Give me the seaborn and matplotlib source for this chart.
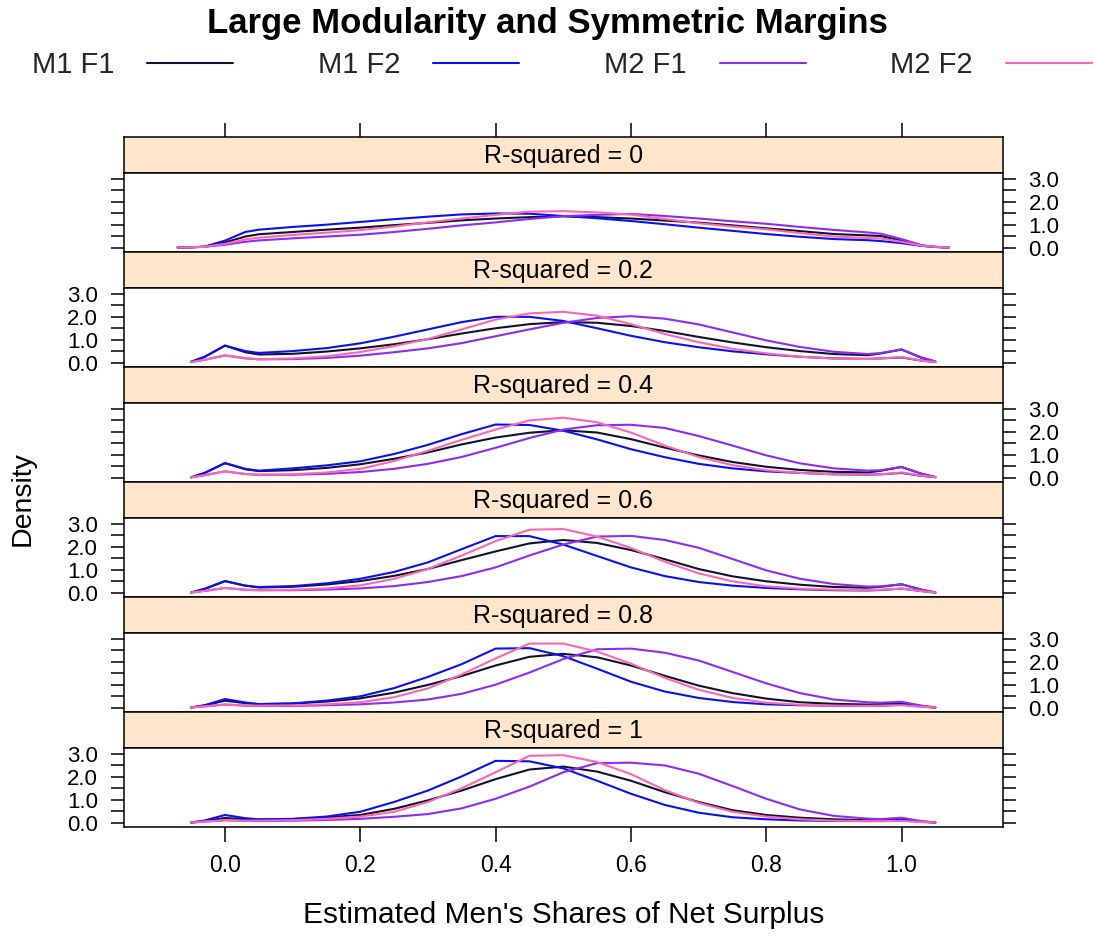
import numpy as np
import pandas as pd
import matplotlib
matplotlib.use("Agg")
import matplotlib.pyplot as plt
import seaborn as sns
from matplotlib.ticker import FuncFormatter

sns.set_theme(style="white")
plt.rcParams['font.family'] = ['Liberation Sans', 'DejaVu Sans']

nan = float("nan")

x_grid = [-0.07, -0.05, -0.03, 0.0, 0.03, 0.05, 0.1, 0.15, 0.2, 0.25, 0.3, 0.35, 0.4,
          0.45, 0.5, 0.55, 0.6, 0.65, 0.7, 0.75, 0.8, 0.85, 0.9, 0.95, 0.97, 1.0,
          1.03, 1.05, 1.07]

r_squared = ["0", "0.2", "0.4", "0.6", "0.8", "1"]
series = ["M1 F1", "M1 F2", "M2 F1", "M2 F2"]
colors = ["#12122E", "#0A10F2", "#8E2BF6", "#FF66B2"]

# one row per R-squared panel
m1f1 = [
    [0, 0.01, 0.03, 0.22, 0.48, 0.58, 0.68, 0.78, 0.87, 0.98, 1.08, 1.19, 1.27, 1.33, 1.37, 1.33, 1.27, 1.18, 1.09, 0.97, 0.84, 0.72, 0.59, 0.53, 0.5, 0.3, 0.08, 0.03, 0],
    [nan, 0.03, 0.25, 0.74, 0.45, 0.35, 0.38, 0.48, 0.62, 0.8, 1.02, 1.27, 1.5, 1.68, 1.77, 1.74, 1.6, 1.38, 1.12, 0.88, 0.67, 0.5, 0.37, 0.32, 0.4, 0.57, 0.2, 0.04, nan],
    [nan, 0.01, 0.2, 0.63, 0.36, 0.28, 0.32, 0.42, 0.58, 0.82, 1.1, 1.45, 1.75, 1.96, 2.07, 1.97, 1.68, 1.31, 0.97, 0.68, 0.47, 0.33, 0.25, 0.22, 0.3, 0.46, 0.16, 0.02, nan],
    [nan, 0.0, 0.16, 0.5, 0.3, 0.22, 0.25, 0.35, 0.5, 0.73, 1.03, 1.42, 1.8, 2.15, 2.3, 2.17, 1.86, 1.46, 1.03, 0.71, 0.49, 0.34, 0.24, 0.21, 0.25, 0.36, 0.12, 0.0, nan],
    [nan, 0.0, 0.09, 0.3, 0.19, 0.15, 0.17, 0.26, 0.4, 0.65, 0.99, 1.38, 1.84, 2.22, 2.35, 2.2, 1.84, 1.39, 0.96, 0.63, 0.39, 0.23, 0.16, 0.13, 0.15, 0.2, 0.06, 0.0, nan],
    [nan, 0.0, 0.06, 0.2, 0.14, 0.12, 0.15, 0.22, 0.33, 0.6, 0.97, 1.4, 1.9, 2.32, 2.45, 2.23, 1.83, 1.33, 0.9, 0.54, 0.33, 0.21, 0.14, 0.1, 0.1, 0.13, 0.04, 0.0, nan],
]
m1f2 = [
    [0, 0.01, 0.04, 0.3, 0.68, 0.78, 0.9, 1.0, 1.12, 1.24, 1.35, 1.45, 1.49, 1.48, 1.38, 1.28, 1.16, 1.02, 0.87, 0.73, 0.59, 0.47, 0.37, 0.32, 0.28, 0.19, 0.07, 0.02, 0],
    [nan, 0.03, 0.25, 0.74, 0.5, 0.42, 0.5, 0.63, 0.84, 1.13, 1.45, 1.77, 2.0, 2.0, 1.82, 1.5, 1.17, 0.89, 0.67, 0.49, 0.36, 0.25, 0.18, 0.16, 0.18, 0.22, 0.08, 0.02, nan],
    [nan, 0.01, 0.2, 0.63, 0.38, 0.3, 0.4, 0.53, 0.71, 1.03, 1.43, 1.9, 2.32, 2.3, 2.05, 1.67, 1.24, 0.89, 0.6, 0.4, 0.27, 0.2, 0.14, 0.12, 0.14, 0.2, 0.07, 0.01, nan],
    [nan, 0.0, 0.16, 0.5, 0.3, 0.24, 0.28, 0.4, 0.6, 0.9, 1.32, 1.9, 2.47, 2.47, 2.1, 1.6, 1.1, 0.72, 0.46, 0.3, 0.2, 0.14, 0.1, 0.09, 0.11, 0.17, 0.06, 0.0, nan],
    [nan, 0.0, 0.1, 0.37, 0.22, 0.15, 0.18, 0.3, 0.49, 0.85, 1.34, 1.9, 2.58, 2.6, 2.25, 1.7, 1.13, 0.7, 0.42, 0.24, 0.14, 0.1, 0.08, 0.07, 0.08, 0.13, 0.04, 0.0, nan],
    [nan, 0.0, 0.09, 0.33, 0.19, 0.14, 0.16, 0.26, 0.47, 0.9, 1.4, 2.02, 2.7, 2.68, 2.37, 1.83, 1.26, 0.77, 0.43, 0.23, 0.14, 0.09, 0.07, 0.06, 0.07, 0.1, 0.03, 0.0, nan],
]
m2f1 = [
    [0, 0.01, 0.03, 0.12, 0.25, 0.31, 0.4, 0.48, 0.56, 0.68, 0.82, 0.97, 1.1, 1.25, 1.37, 1.43, 1.47, 1.38, 1.27, 1.15, 1.04, 0.9, 0.77, 0.66, 0.6, 0.37, 0.1, 0.03, 0],
    [nan, 0.02, 0.12, 0.31, 0.18, 0.14, 0.15, 0.2, 0.3, 0.45, 0.62, 0.85, 1.15, 1.45, 1.74, 1.95, 2.03, 1.92, 1.67, 1.32, 0.97, 0.68, 0.47, 0.37, 0.42, 0.57, 0.22, 0.05, nan],
    [nan, 0.01, 0.1, 0.27, 0.15, 0.12, 0.12, 0.16, 0.24, 0.38, 0.6, 0.9, 1.3, 1.73, 2.1, 2.29, 2.31, 2.17, 1.82, 1.4, 0.97, 0.62, 0.4, 0.3, 0.32, 0.46, 0.16, 0.02, nan],
    [nan, 0.0, 0.07, 0.2, 0.12, 0.1, 0.1, 0.13, 0.18, 0.28, 0.46, 0.72, 1.1, 1.62, 2.1, 2.45, 2.48, 2.3, 1.96, 1.47, 0.97, 0.6, 0.37, 0.26, 0.27, 0.36, 0.12, 0.0, nan],
    [nan, 0.0, 0.05, 0.13, 0.08, 0.07, 0.07, 0.1, 0.14, 0.22, 0.35, 0.6, 1.0, 1.53, 2.12, 2.55, 2.58, 2.4, 2.06, 1.56, 1.06, 0.63, 0.35, 0.23, 0.21, 0.25, 0.08, 0.0, nan],
    [nan, 0.0, 0.04, 0.1, 0.07, 0.06, 0.08, 0.11, 0.16, 0.25, 0.37, 0.62, 1.04, 1.57, 2.2, 2.6, 2.62, 2.5, 2.14, 1.6, 1.04, 0.57, 0.29, 0.17, 0.15, 0.21, 0.06, 0.0, nan],
]
m2f2 = [
    [0, 0.01, 0.03, 0.16, 0.35, 0.43, 0.55, 0.65, 0.76, 0.92, 1.1, 1.27, 1.43, 1.57, 1.59, 1.54, 1.44, 1.25, 1.06, 0.92, 0.8, 0.63, 0.48, 0.42, 0.39, 0.25, 0.08, 0.03, 0],
    [nan, 0.02, 0.12, 0.31, 0.2, 0.14, 0.18, 0.27, 0.46, 0.72, 1.03, 1.45, 1.88, 2.15, 2.22, 2.05, 1.68, 1.25, 0.89, 0.6, 0.4, 0.25, 0.17, 0.15, 0.18, 0.24, 0.08, 0.02, nan],
    [nan, 0.01, 0.1, 0.27, 0.16, 0.12, 0.14, 0.22, 0.38, 0.72, 1.17, 1.65, 2.1, 2.5, 2.62, 2.42, 1.97, 1.4, 0.9, 0.54, 0.32, 0.2, 0.14, 0.12, 0.14, 0.22, 0.08, 0.01, nan],
    [nan, 0.0, 0.07, 0.2, 0.12, 0.1, 0.12, 0.18, 0.31, 0.6, 1.03, 1.62, 2.25, 2.75, 2.78, 2.45, 1.95, 1.35, 0.84, 0.49, 0.27, 0.17, 0.12, 0.1, 0.12, 0.17, 0.06, 0.0, nan],
    [nan, 0.0, 0.05, 0.13, 0.09, 0.08, 0.09, 0.14, 0.23, 0.45, 0.84, 1.45, 2.15, 2.8, 2.8, 2.45, 1.92, 1.3, 0.78, 0.42, 0.21, 0.12, 0.08, 0.07, 0.08, 0.1, 0.03, 0.0, nan],
    [nan, 0.0, 0.04, 0.1, 0.08, 0.08, 0.1, 0.16, 0.26, 0.47, 0.9, 1.5, 2.2, 2.92, 2.95, 2.65, 2.12, 1.42, 0.86, 0.47, 0.26, 0.14, 0.08, 0.06, 0.06, 0.07, 0.02, 0.0, nan],
]

x_ticks = [0.0, 0.2, 0.4, 0.6, 0.8, 1.0]
y_ticks = [0.0, 0.5, 1.0, 1.5, 2.0, 2.5, 3.0]

title = "Large Modularity and Symmetric Margins"
x_label = "Estimated Men's Shares of Net Surplus"
y_label = "Density"

# ---- long table ----
rows = []
for s_name, s_vals in zip(series, [m1f1, m1f2, m2f1, m2f2]):
    for p, r in enumerate(r_squared):
        for xv, dv in zip(x_grid, s_vals[p]):
            rows.append({"panel": r, "series": s_name, "x": xv, "density": dv})
df = pd.DataFrame(rows).dropna()

# ---- layout (pixels) ----
W, H = 1094, 936
fig = plt.figure(figsize=(W / 100, H / 100), dpi=100)
left_px, right_px = 123.5, 1003.0
top_px, pitch, strip_h = 137.3, 115.0, 36.0
L = left_px / W
Wd = (right_px - left_px) / W
XLIM = (-0.15, 1.15)
YLIM = (-0.21, 3.25)
strip_bg = "#FFE5CC"
lw_frame = 1.1

def yfmt(v, pos):
    return f"{v:.1f}" if abs(v - round(v)) < 1e-6 else ""

axes = []
for i, r in enumerate(r_squared):
    s_top = top_px + pitch * i
    s_bot = s_top + strip_h
    p_bot = top_px + pitch * (i + 1)
    # strip
    sax = fig.add_axes([L, 1 - s_bot / H, Wd, strip_h / H])
    sax.set_facecolor(strip_bg)
    sax.set_xlim(*XLIM)
    sax.set_yticks([])
    sax.text(0.5, 0.47, f"R-squared = {r}", transform=sax.transAxes,
             ha="center", va="center", fontsize=18, color="black")
    for sp in sax.spines.values():
        sp.set_linewidth(lw_frame)
        sp.set_color("black")
    if i == 0:
        sax.set_xticks(x_ticks)
        sax.tick_params(axis="x", which="both", direction="out", top=True, bottom=False,
                        labeltop=False, labelbottom=False, length=10, width=lw_frame,
                        color="black")
    else:
        sax.set_xticks([])

    # panel
    ax = fig.add_axes([L, 1 - p_bot / H, Wd, (p_bot - s_bot) / H])
    sub = df[df["panel"] == r]
    sns.lineplot(data=sub, x="x", y="density", hue="series", hue_order=series,
                 palette=colors, estimator=None, sort=True, linewidth=1.5,
                 legend=False, ax=ax)
    ax.set_xlim(*XLIM)
    ax.set_ylim(*YLIM)
    ax.set_xlabel("")
    ax.set_ylabel("")
    for sp in ax.spines.values():
        sp.set_linewidth(lw_frame)
        sp.set_color("black")
    ax.set_yticks(y_ticks)
    ax.yaxis.set_major_formatter(FuncFormatter(yfmt))
    lab_right = (i % 2 == 0)
    ax.tick_params(axis="y", which="both", direction="out", left=True, right=True,
                   labelleft=not lab_right, labelright=lab_right, length=9.4,
                   width=lw_frame, color="black", labelsize=16, pad=9,
                   labelcolor="black")
    if i == len(r_squared) - 1:
        ax.set_xticks(x_ticks)
        ax.set_xticklabels([f"{t:.1f}" for t in x_ticks])
        ax.tick_params(axis="x", which="both", direction="out", bottom=True, top=False,
                       length=10.5, width=lw_frame, color="black", labelsize=16.5,
                       pad=9, labelcolor="black")
    else:
        ax.set_xticks([])
    axes.append(ax)

# titles and labels
fig.text(0.5, 1 - 23 / H, title, ha="center", va="center",
         fontsize=25, fontweight="bold", color="black")
fig.text((left_px + right_px) / 2 / W, 1 - 915 / H, x_label, ha="center",
         va="center", fontsize=21.5, color="black")
fig.text(23 / W, 1 - 499 / H, y_label, ha="center", va="center", rotation=90,
         fontsize=20.5, color="black")

# legend
handles = axes[0].get_lines()[:4]
fig.legend(handles, series, ncol=4, loc="center left",
           bbox_to_anchor=(32 / W, 1 - 65 / H), frameon=False, markerfirst=False,
           fontsize=21, handlelength=2.95, handletextpad=1.13, columnspacing=2.9,
           borderpad=0, borderaxespad=0)

fig.savefig("out.png", dpi=100)
